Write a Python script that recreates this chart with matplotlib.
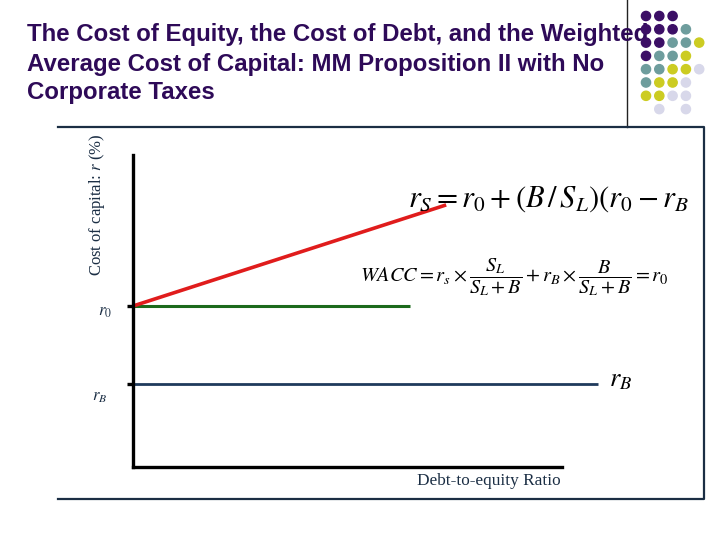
import matplotlib
matplotlib.use('Agg')
import matplotlib.pyplot as plt
from matplotlib.lines import Line2D

plt.rcParams['mathtext.fontset'] = 'stix'

# ── data (cost of capital, arbitrary % scale) ────────────────────────────────
r0 = 51.6
rB = 26.6
equity_x = [0.0, 0.73]          # debt-to-equity ratio
equity_y = [51.6, 84.0]         # r_S rises with leverage
wacc_x = [0.0, 0.646]
wacc_y = [r0, r0]
debt_x = [0.0, 1.084]
debt_y = [rB, rB]

title_lines = ['The Cost of Equity, the Cost of Debt, and the Weighted',
               'Average Cost of Capital: MM Proposition II with No',
               'Corporate Taxes']

# decorative dot grid (rows top→bottom), P purple, T teal, Y yellow, L lavender
DOT_GRID = ['PPP..',
            'PPPT.',
            'PPTTY',
            'PTTY.',
            'TTYYL',
            'TYYL.',
            'YYLL.',
            '.L.L.']
DOT_COLORS = {'P': '#3c0f66', 'T': '#6e9d9d', 'Y': '#cccc22', 'L': '#d8d8ea'}

TITLE_COLOR = '#2e0a58'
NAVY = '#1b2e44'

W, H = 720, 540
fig = plt.figure(figsize=(7.2, 5.4), dpi=100)

# ── background / slide decoration in pixel coordinates ───────────────────────
bg = fig.add_axes([0, 0, 1, 1])
bg.set_xlim(0, W)
bg.set_ylim(H, 0)
bg.axis('off')

for i, line in enumerate(title_lines):
    bg.text(27, 35 + i * 29, line, fontsize=17.3, fontweight='bold',
            family='Liberation Sans', color=TITLE_COLOR, va='center', ha='left')

bg.add_line(Line2D([627, 627], [0, 127], color='#222222', lw=1.0))
bg.add_line(Line2D([58, 704, 704, 58], [127, 127, 499, 499], color=NAVY, lw=1.6))

for r, row in enumerate(DOT_GRID):
    for c, code in enumerate(row):
        if code == '.':
            continue
        bg.add_patch(plt.Circle((646 + c * 13.3, 16 + r * 13.3), 4.6,
                                color=DOT_COLORS[code], zorder=5))

# ── chart axes ───────────────────────────────────────────────────────────────
ax = fig.add_axes([133 / W, (H - 467) / H, (562 - 133) / W, (467 - 155) / H])
ax.set_xlim(0, 1)
ax.set_ylim(0, 100)
ax.patch.set_alpha(0)
for s in ['top', 'right']:
    ax.spines[s].set_visible(False)
for s in ['left', 'bottom']:
    ax.spines[s].set_linewidth(2.4)
    ax.spines[s].set_color('black')
ax.set_xticks([])
ax.set_yticks([r0, rB])
ax.set_yticklabels([])
ax.tick_params(axis='y', length=4, width=2.4, color='black')

ax.plot(wacc_x, wacc_y, color='#1c6a1c', lw=2.2, solid_capstyle='butt')
ax.plot(debt_x, debt_y, color='#1f3a5c', lw=2.0, clip_on=False, solid_capstyle='butt')
ax.plot(equity_x, equity_y, color='#e01c1c', lw=2.6, solid_capstyle='butt')

ax.text(-0.05, r0 - 1.5, r'$r_0$', fontsize=12, color=NAVY, ha='right', va='center')
ax.text(-0.06, rB - 4, r'$r_B$', fontsize=12, color=NAVY, ha='right', va='center')
ax.text(1.11, rB + 1.5, r'$r_B$', fontsize=19, color='black', ha='left', va='center')

# formula as shown on the slide (closing parenthesis falls off the slide)
ax.text(0.64, 86, r'$r_S = r_0 + (B\,/\,S_L)(r_0 - r_B$', fontsize=22,
        color='black', ha='left', va='center')
ax.text(0.53, 61, r'$WACC = r_s \times \dfrac{S_L}{S_L + B} + r_B \times \dfrac{B}{S_L + B} = r_0$',
        fontsize=14.6, color='black', ha='left', va='center')

fig.text(97 / W, 1 - 205 / H, 'Cost of capital: $r$ (%)', rotation=90,
         family='Liberation Serif', fontsize=12, color=NAVY, ha='center', va='center')
fig.text(489 / W, 1 - 481 / H, 'Debt-to-equity Ratio', family='Liberation Serif',
         fontsize=12.4, color=NAVY, ha='center', va='center')

fig.savefig('out.png', dpi=100)
